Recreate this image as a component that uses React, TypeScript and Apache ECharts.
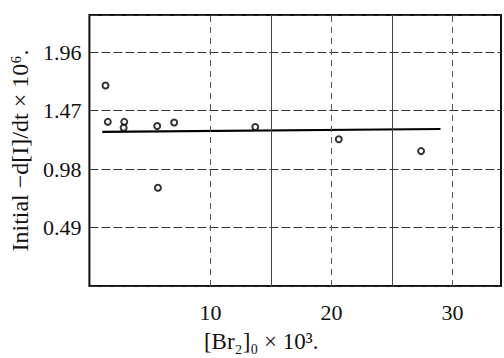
import React, { useEffect, useRef } from "react";
import * as echarts from "echarts";

const brConc = [1.33, 1.52, 2.88, 2.83, 5.6, 5.66, 7.0, 13.7, 20.6, 27.4];
const rateValues = [1.68, 1.375, 1.375, 1.326, 1.34, 0.823, 1.37, 1.332, 1.229, 1.13];
const fitX = [1.06, 29.0];
const fitY = [1.291, 1.315];
const yTickLabels = ["0.49", "0.98", "1.47", "1.96"];
const xTickLabels = ["10", "20", "30"];
const xGridDashed = [10, 20, 30];
const xGridSolid = [15, 25];

const FONT = "'Liberation Serif', 'DejaVu Serif', serif";

export default function App() {
  const ref = useRef<HTMLDivElement>(null);
  useEffect(() => {
    if (!ref.current) return;
    const chart = echarts.init(ref.current, undefined, { renderer: "svg" });
    chart.setOption({
      animation: false,
      backgroundColor: "#ffffff",
      grid: {
        left: 89,
        right: 1,
        top: 15,
        bottom: 63,
        show: true,
        borderColor: "#111",
        borderWidth: 2,
        backgroundColor: "transparent",
      },
      xAxis: {
        type: "value",
        min: 0,
        max: 34,
        interval: 5,
        name: "[Br₂]₀ × 10³.",
        nameLocation: "middle",
        nameGap: 44,
        nameTextStyle: {
          fontFamily: FONT,
          fontSize: 23,
          color: "#111",
          padding: [0, 68, 0, 0],
        },
        axisLine: { show: false },
        axisTick: { show: false },
        axisLabel: {
          margin: 15,
          fontFamily: FONT,
          fontSize: 22,
          color: "#111",
          formatter: (v: number) => {
            const s = String(Math.round(v));
            return xTickLabels.includes(s) && Math.abs(v - Math.round(v)) < 1e-6 ? s : "";
          },
        },
        splitLine: { show: false },
      },
      yAxis: {
        type: "value",
        min: 0,
        max: 2.27,
        interval: 0.49,
        name: "Initial −d[I]/dt × 10⁶.",
        nameLocation: "middle",
        nameGap: 57,
        nameRotate: 90,
        nameTextStyle: { fontFamily: FONT, fontSize: 24, color: "#111" },
        axisLine: { show: false },
        axisTick: { show: false },
        axisLabel: {
          margin: 8,
          fontFamily: FONT,
          fontSize: 22,
          color: "#111",
          formatter: (v: number) => {
            const s = v.toFixed(2);
            return yTickLabels.includes(s) ? s : "";
          },
        },
        splitLine: {
          show: true,
          lineStyle: { color: "#333", width: 1, type: [9, 3] },
        },
      },
      series: [
        {
          type: "line",
          data: fitX.map((x, i) => [x, fitY[i]]),
          symbol: "none",
          lineStyle: { color: "#000", width: 2.2 },
          z: 3,
          markLine: {
            silent: true,
            symbol: "none",
            label: { show: false },
            data: [
              ...xGridDashed.map((x) => ({
                xAxis: x,
                lineStyle: { color: "#555", width: 1, type: [6, 5] },
              })),
              ...xGridSolid.map((x) => ({
                xAxis: x,
                lineStyle: { color: "#444", width: 1, type: "solid" },
              })),
            ],
          },
        },
        {
          type: "scatter",
          data: brConc.map((x, i) => [x, rateValues[i]]),
          symbol: "emptyCircle",
          symbolSize: 6,
          itemStyle: { color: "#000", borderColor: "#000", borderWidth: 1 },
          z: 4,
        },
      ],
    });
    return () => chart.dispose();
  }, []);
  return (
    <div
      ref={ref}
      style={{ position: "fixed", left: 0, top: 0, width: 504, height: 358 }}
    />
  );
}
